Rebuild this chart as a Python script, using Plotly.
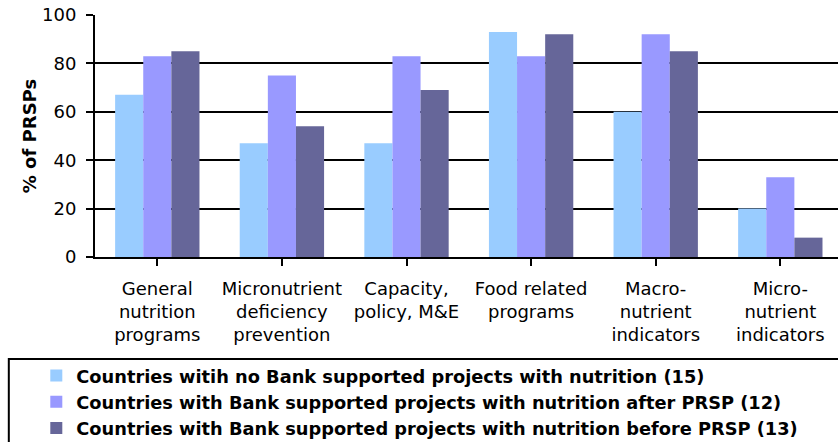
import plotly.graph_objects as go

categories = ["General<br>nutrition<br>programs", "Micronutrient<br>deficiency<br>prevention",
              "Capacity,<br>policy, M&E", "Food related<br>programs",
              "Macro-<br>nutrient<br>indicators", "Micro-<br>nutrient<br>indicators"]
series_names = ["Countries witih no Bank supported projects with nutrition (15)",
                "Countries with Bank supported projects with nutrition after PRSP (12)",
                "Countries with Bank supported projects with nutrition before PRSP (13)"]
no_bank = [67, 47, 47, 93, 60, 20]
after_prsp = [83, 75, 83, 83, 92, 33]
before_prsp = [85, 54, 69, 92, 85, 8]
colors = ["#99CCFF", "#9999FF", "#666699"]
y_ticks = [0, 20, 40, 60, 80, 100]

FONT = "DejaVu Sans"

fig = go.Figure()
for name, vals, col in zip(series_names, [no_bank, after_prsp, before_prsp], colors):
    fig.add_trace(go.Bar(x=list(range(len(categories))), y=vals, name=name,
                         marker=dict(color=col, line=dict(width=0))))

fig.update_layout(
    width=838, height=442,
    margin=dict(l=95, r=0, t=15, b=185, autoexpand=False),
    paper_bgcolor="white", plot_bgcolor="white",
    barmode="group", bargap=0.323, bargroupgap=0,
    font=dict(family=FONT, color="black", size=18),
    showlegend=True,
    legend=dict(x=-0.079, xanchor="left", y=-0.4155, yanchor="top",
                font=dict(family=FONT, size=17.8, color="black", weight="bold"),
                bgcolor="rgba(0,0,0,0)", borderwidth=0, traceorder="normal",
                itemclick=False),
    shapes=[dict(type="rect", xref="paper", yref="paper",
                 x0=-0.116, x1=1.02, y0=-0.4215, y1=-0.85,
                 line=dict(color="black", width=2), fillcolor="rgba(0,0,0,0)")],
)
fig.update_xaxes(
    tickmode="array", tickvals=list(range(len(categories))), ticktext=categories,
    range=[-0.5, 5.463], automargin=False,
    showline=True, linecolor="black", linewidth=2,
    ticks="outside", ticklen=7, tickwidth=2, tickcolor="black",
    tickson="boundaries", ticklabelstandoff=7,
    showgrid=False, zeroline=False,
    tickfont=dict(family=FONT, size=18, color="black"),
)
fig.update_yaxes(
    range=[0, 100], tickvals=y_ticks, automargin=False,
    showline=True, linecolor="black", linewidth=2,
    ticks="outside", ticklen=7, tickwidth=2, tickcolor="black",
    ticklabelstandoff=6,
    showgrid=True, gridcolor="black", gridwidth=2, zeroline=False,
    tickfont=dict(family=FONT, size=18, color="black"),
    title=dict(text="% of PRSPs", font=dict(family=FONT, size=18, color="black", weight="bold"),
               standoff=1),
)

fig.write_html("out.html", config={"displayModeBar": False},
               post_script="document.body.style.margin='0px';")
